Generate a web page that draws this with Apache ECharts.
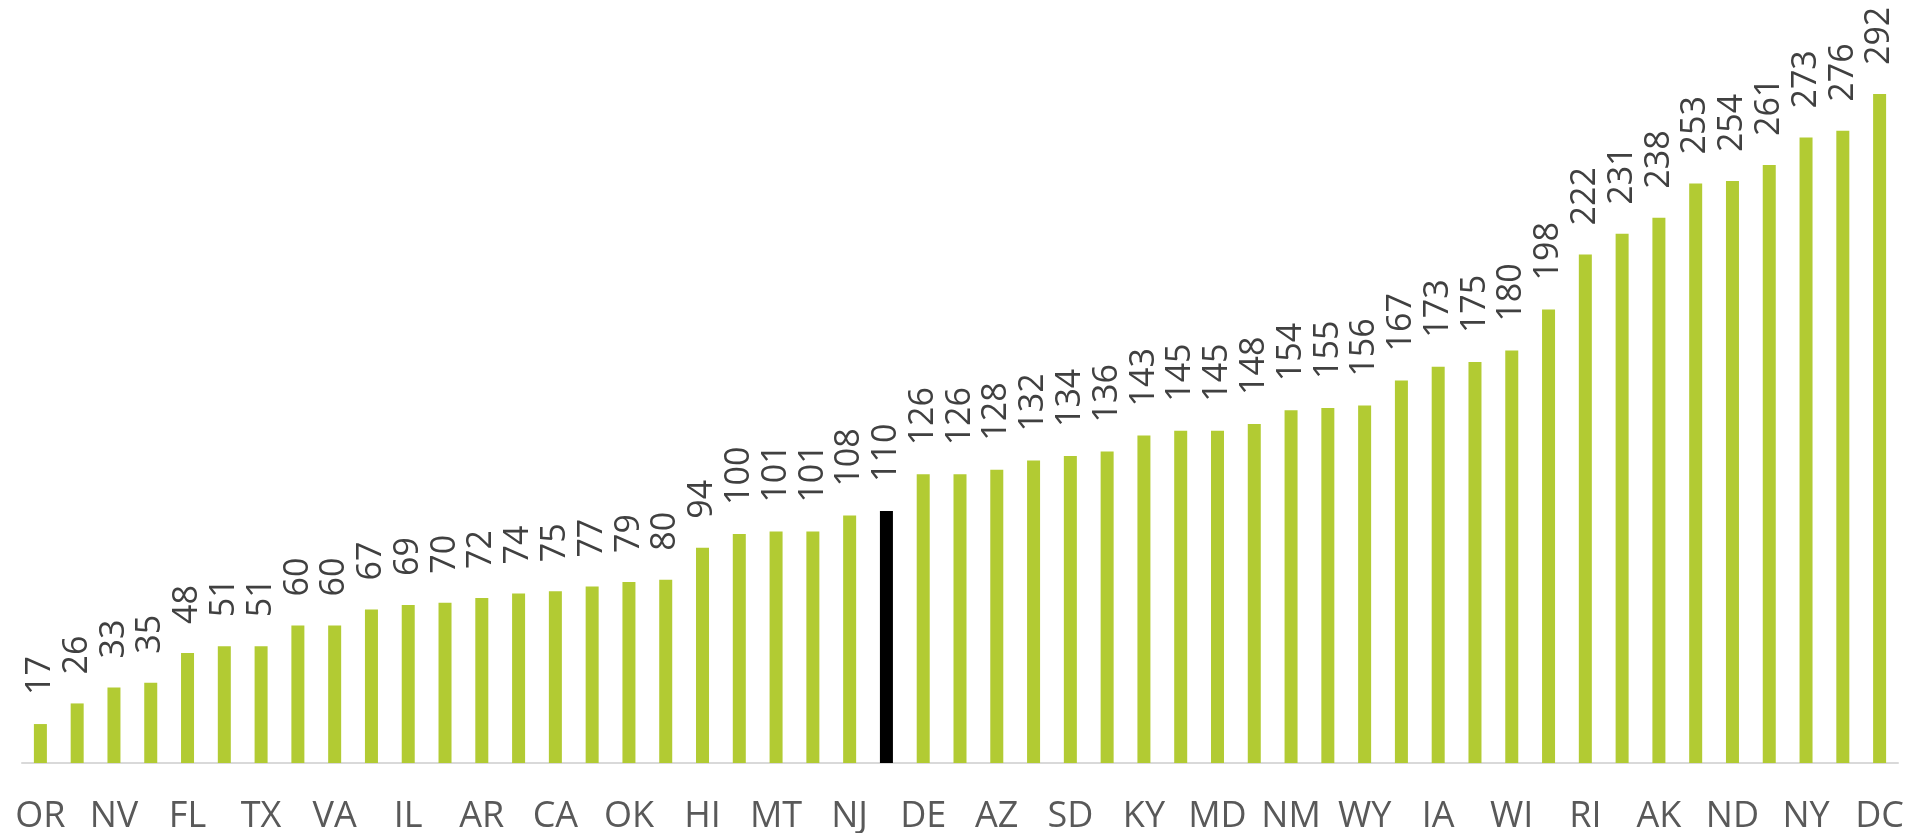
<!DOCTYPE html>
<html>
<head>
<meta charset="utf-8">
<script src="https://cdn.jsdelivr.net/npm/echarts@6/dist/echarts.min.js"></script>
<style>html,body{margin:0;padding:0;background:#fff;}#c{width:1907px;height:833px;}</style>
</head>
<body>
<div id="c"></div>
<script>
const categories = ["OR","WA","NV","UT","FL","CO","TX","GA","VA","NC","IL","MI","AR","TN","CA","IN","OK","MO","HI","SC","MT","ID","NJ","US","DE","KS","AZ","OH","SD","LA","KY","AL","MD","MN","NM","CT","WY","NE","IA","MA","WI","PA","RI","ME","AK","NH","ND","VT","NY","WV","DC"];
const values = [17,26,33,35,48,51,51,60,60,67,69,70,72,74,75,77,79,80,94,100,101,101,108,110,126,126,128,132,134,136,143,145,145,148,154,155,156,167,173,175,180,198,222,231,238,253,254,261,273,276,292];
const highlight = "US";

const chart = echarts.init(document.getElementById('c'));
chart.setOption({
  animation: false,
  grid: { left: 22, right: 9, top: 75.7, bottom: 70, containLabel: false, outerBoundsMode: 'none' },
  xAxis: {
    type: 'category',
    data: categories,
    axisLine: { lineStyle: { color: '#D9D9D9', width: 2 } },
    axisTick: { show: false },
    axisLabel: { interval: 1, color: '#595959', fontSize: 36, fontFamily: 'Open Sans', margin: 36 }
  },
  yAxis: {
    type: 'value', min: 0, max: 300,
    show: false, splitLine: { show: false }
  },
  series: [{
    type: 'bar',
    barWidth: 13,
    data: values.map((v, i) => ({
      value: v,
      itemStyle: { color: categories[i] === highlight ? '#000000' : '#B2CB33' }
    })),
    label: {
      show: true, position: 'top', rotate: 90, distance: 29,
      align: 'left', verticalAlign: 'middle',
      color: '#404040', fontSize: 34, fontFamily: 'Open Sans'
    }
  }]
});
</script>
</body>
</html>
